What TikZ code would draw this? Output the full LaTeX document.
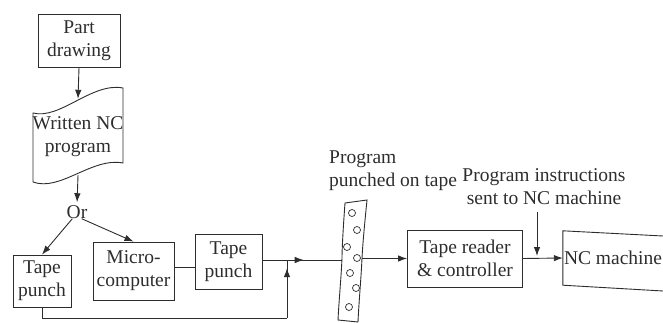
\documentclass[tikz,border=0pt]{standalone}
\usepackage{fontspec}
\setmainfont{Liberation Serif}
\usetikzlibrary{arrows.meta,decorations.markings}
\definecolor{ink}{RGB}{45,45,45}
\begin{document}
\begin{tikzpicture}[x=1pt,y=-1pt,
  every node/.style={font=\fontsize{19.5}{23}\selectfont, text=ink, inner sep=0pt},
  box/.style={draw=ink, line width=0.9pt, align=center},
  ln/.style={draw=ink, line width=0.9pt},
  arr/.style={ln, -{Latex[length=9pt,width=6.5pt]}},
  midarr/.style={ln, postaction={decorate}, decoration={markings, mark=at position #1 with {\arrow{Latex[length=9pt,width=6.5pt]}}}}
]
\useasboundingbox (0,0) rectangle (663,323);
% nodes
\node[box, minimum width=82pt, minimum height=53pt] (part) at (79,40.5) {Part\\drawing};
\node[align=center, minimum width=90pt, minimum height=76pt] (written) at (78,137) {Written NC\\program};
\draw[ln] (33,113) .. controls (60,120) and (92,82) .. (123,88)
  -- (123,163) .. controls (92,157) and (60,192) .. (33,182) -- cycle;
\node (or) at (77,212) {Or};
\node[box, minimum width=58pt, minimum height=52pt] (tp1) at (42,281) {Tape\\punch};
\node[box, minimum width=81pt, minimum height=58pt] (micro) at (133.5,271) {Micro-\\computer};
\node[box, minimum width=67pt, minimum height=55pt] (tp2) at (228.5,262) {Tape\\punch};
\node[minimum width=20pt, minimum height=110pt] (tape) at (352,260) {};
\draw[ln] (345,203) .. controls (343,230) and (342,250) .. (342,258)
  .. controls (341,280) and (339,300) .. (338,320)
  -- (358,322) .. controls (359,300) and (361,280) .. (362,258)
  .. controls (363,240) and (365,220) .. (367,200) -- cycle;
\foreach \p in {(352,213),(357,230),(347,247),(357,258),(350,273),(356,288),(349,307)}
  \draw[ln, line width=0.7pt] \p circle (3.5);
\node[align=left, anchor=west] (lab1) at (329,171) {Program\\punched on tape};
\node[box, minimum width=115pt, minimum height=57pt] (tr) at (465,258.5) {Tape reader\\\& controller};
\node[align=center] (lab2) at (544,187) {Program instructions\\sent to NC machine};
\node[minimum width=100pt, minimum height=54pt] (nc) at (613,258) {NC machine};
\draw[ln] (663,236) -- (nc.north west) -- (nc.south west) -- (663,291);
% connectors
\draw[arr] (part.south) -- (written.north);
\draw[arr, shorten >=3pt] (written.south) -- (or.north);
\draw[arr] (or.235) -- (tp1.north);
\draw[arr] (or.305) -- (micro.north);
\draw[ln] (micro.east |- tp2.west) ++(0,5) coordinate (m1) -- (tp2.west |- m1);
\draw[midarr=0.52] (tp2.east |- tape.west) -- (tape.west);
\coordinate (j1) at (287,260);
\coordinate (fb) at (287,318);
\draw[ln] (tp1.south) -- (tp1.south |- fb) -- (fb);
\draw[midarr=0.86] (fb) -- (j1);
\draw[arr] (tape.east |- tr.west) -- (tr.west);
\draw[arr] (tr.east) -- (nc.west);
\coordinate (v1) at (537,212);
\coordinate (v2) at (537,256);
\draw[arr] (v1) -- (v2);
\end{tikzpicture}
\end{document}
